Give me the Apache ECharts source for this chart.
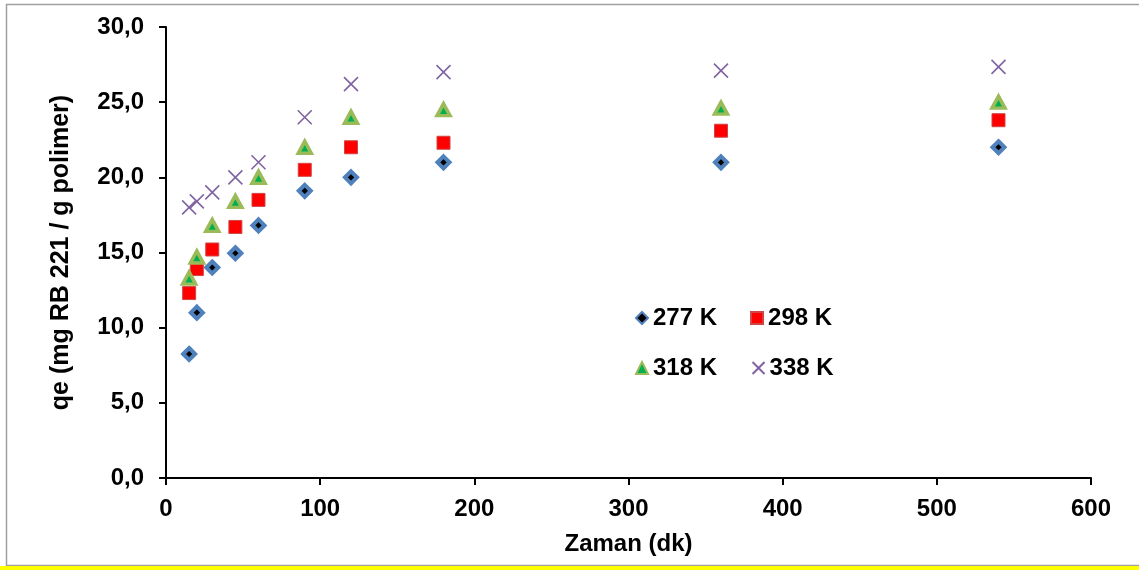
<!DOCTYPE html>
<html>
<head>
<meta charset="utf-8">
<script src="https://cdn.jsdelivr.net/npm/echarts@6/dist/echarts.min.js"></script>
<style>
html,body{margin:0;padding:0;background:#fff;}
#c{width:1139px;height:570px;}
</style>
</head>
<body>
<div id="c"></div>
<script>
const times = [15, 20, 30, 45, 60, 90, 120, 180, 360, 540];
const q277 = [8.25, 11.0, 14.0, 14.95, 16.8, 19.1, 20.0, 21.0, 21.0, 22.0];
const q298 = [12.3, 13.9, 15.2, 16.7, 18.5, 20.5, 22.0, 22.3, 23.1, 23.8];
const q318 = [13.3, 14.7, 16.8, 18.4, 20.0, 22.0, 24.0, 24.5, 24.6, 25.0];
const q338 = [18.0, 18.4, 19.0, 20.0, 21.0, 24.0, 26.2, 27.0, 27.1, 27.35];
const seriesNames = ['277 K', '298 K', '318 K', '338 K'];
const yTicks = [0, 5, 10, 15, 20, 25, 30];
const xTicks = [0, 100, 200, 300, 400, 500, 600];

const pairs = arr => times.map((t, i) => [t, arr[i]]);
const font = 'Liberation Sans, Arial, sans-serif';
const FS = 24;
const crossPath = 'path://M0,0L10,10M10,0L0,10';

const chart = echarts.init(document.getElementById('c'), null, {renderer: 'canvas'});
const legendText = {fontSize: FS, fontWeight: 'bold', color: '#000', fontFamily: font};
chart.setOption({
  animation: false,
  backgroundColor: '#fff',
  textStyle: {fontFamily: font},
  grid: {left: 166, right: 48, top: 27, bottom: 92, containLabel: false},
  graphic: [
    {type: 'rect', shape: {x: 6.5, y: 4.5, width: 1140, height: 561}, style: {fill: 'none', stroke: '#a0a0a0', lineWidth: 1.5}, z: -10},
    {type: 'rect', shape: {x: 0, y: 566, width: 1139, height: 4}, style: {fill: '#ffff00'}, z: -9}
  ],
  legend: [
    {
      data: [seriesNames[0], seriesNames[1]],
      left: 630, top: 301, itemWidth: 12, itemHeight: 12, itemGap: 33,
      textStyle: legendText
    },
    {
      data: [seriesNames[2], seriesNames[3]],
      left: 630, top: 351, itemWidth: 12, itemHeight: 12, itemGap: 33,
      textStyle: legendText
    }
  ],
  xAxis: {
    type: 'value', min: xTicks[0], max: xTicks[xTicks.length - 1], interval: 100,
    name: 'Zaman (dk)', nameLocation: 'middle', nameGap: 54,
    nameTextStyle: {fontSize: FS, fontWeight: 'bold', color: '#000', fontFamily: font},
    axisLine: {show: true, lineStyle: {color: '#000', width: 2}},
    axisTick: {show: true, length: 7, lineStyle: {color: '#000', width: 2}},
    axisLabel: {fontSize: FS, fontWeight: 'bold', color: '#000', margin: 19, fontFamily: font},
    splitLine: {show: false}
  },
  yAxis: {
    type: 'value', min: yTicks[0], max: yTicks[yTicks.length - 1], interval: 5,
    name: 'qe (mg RB 221 / g polimer)', nameLocation: 'middle', nameGap: 92,
    nameTextStyle: {fontSize: 25, fontWeight: 'bold', color: '#000', fontFamily: font},
    axisLine: {show: true, lineStyle: {color: '#000', width: 2}},
    axisTick: {show: true, length: 7, lineStyle: {color: '#000', width: 2}},
    axisLabel: {fontSize: FS, fontWeight: 'bold', color: '#000', margin: 22, fontFamily: font,
      formatter: v => v.toFixed(1).replace('.', ',')},
    splitLine: {show: false}
  },
  series: [
    {
      name: seriesNames[0], type: 'scatter', data: pairs(q277),
      symbol: 'diamond', symbolSize: 12,
      itemStyle: {color: '#000', borderColor: '#4F81BD', borderWidth: 4, opacity: 1}
    },
    {
      name: seriesNames[1], type: 'scatter', data: pairs(q298),
      symbol: 'rect', symbolSize: 13,
      itemStyle: {color: '#FF0000', borderColor: '#D04545', borderWidth: 1, opacity: 1}
    },
    {
      name: seriesNames[2], type: 'scatter', data: pairs(q318),
      symbol: 'triangle', symbolSize: [13, 12],
      itemStyle: {color: '#00B050', borderColor: '#9BBB59', borderWidth: 3.5, opacity: 1}
    },
    {
      name: seriesNames[3], type: 'scatter', data: pairs(q338),
      symbol: crossPath, symbolSize: 14,
      itemStyle: {color: 'none', borderColor: '#8064A2', borderWidth: 1.6, opacity: 1}
    }
  ]
});
</script>
</body>
</html>
